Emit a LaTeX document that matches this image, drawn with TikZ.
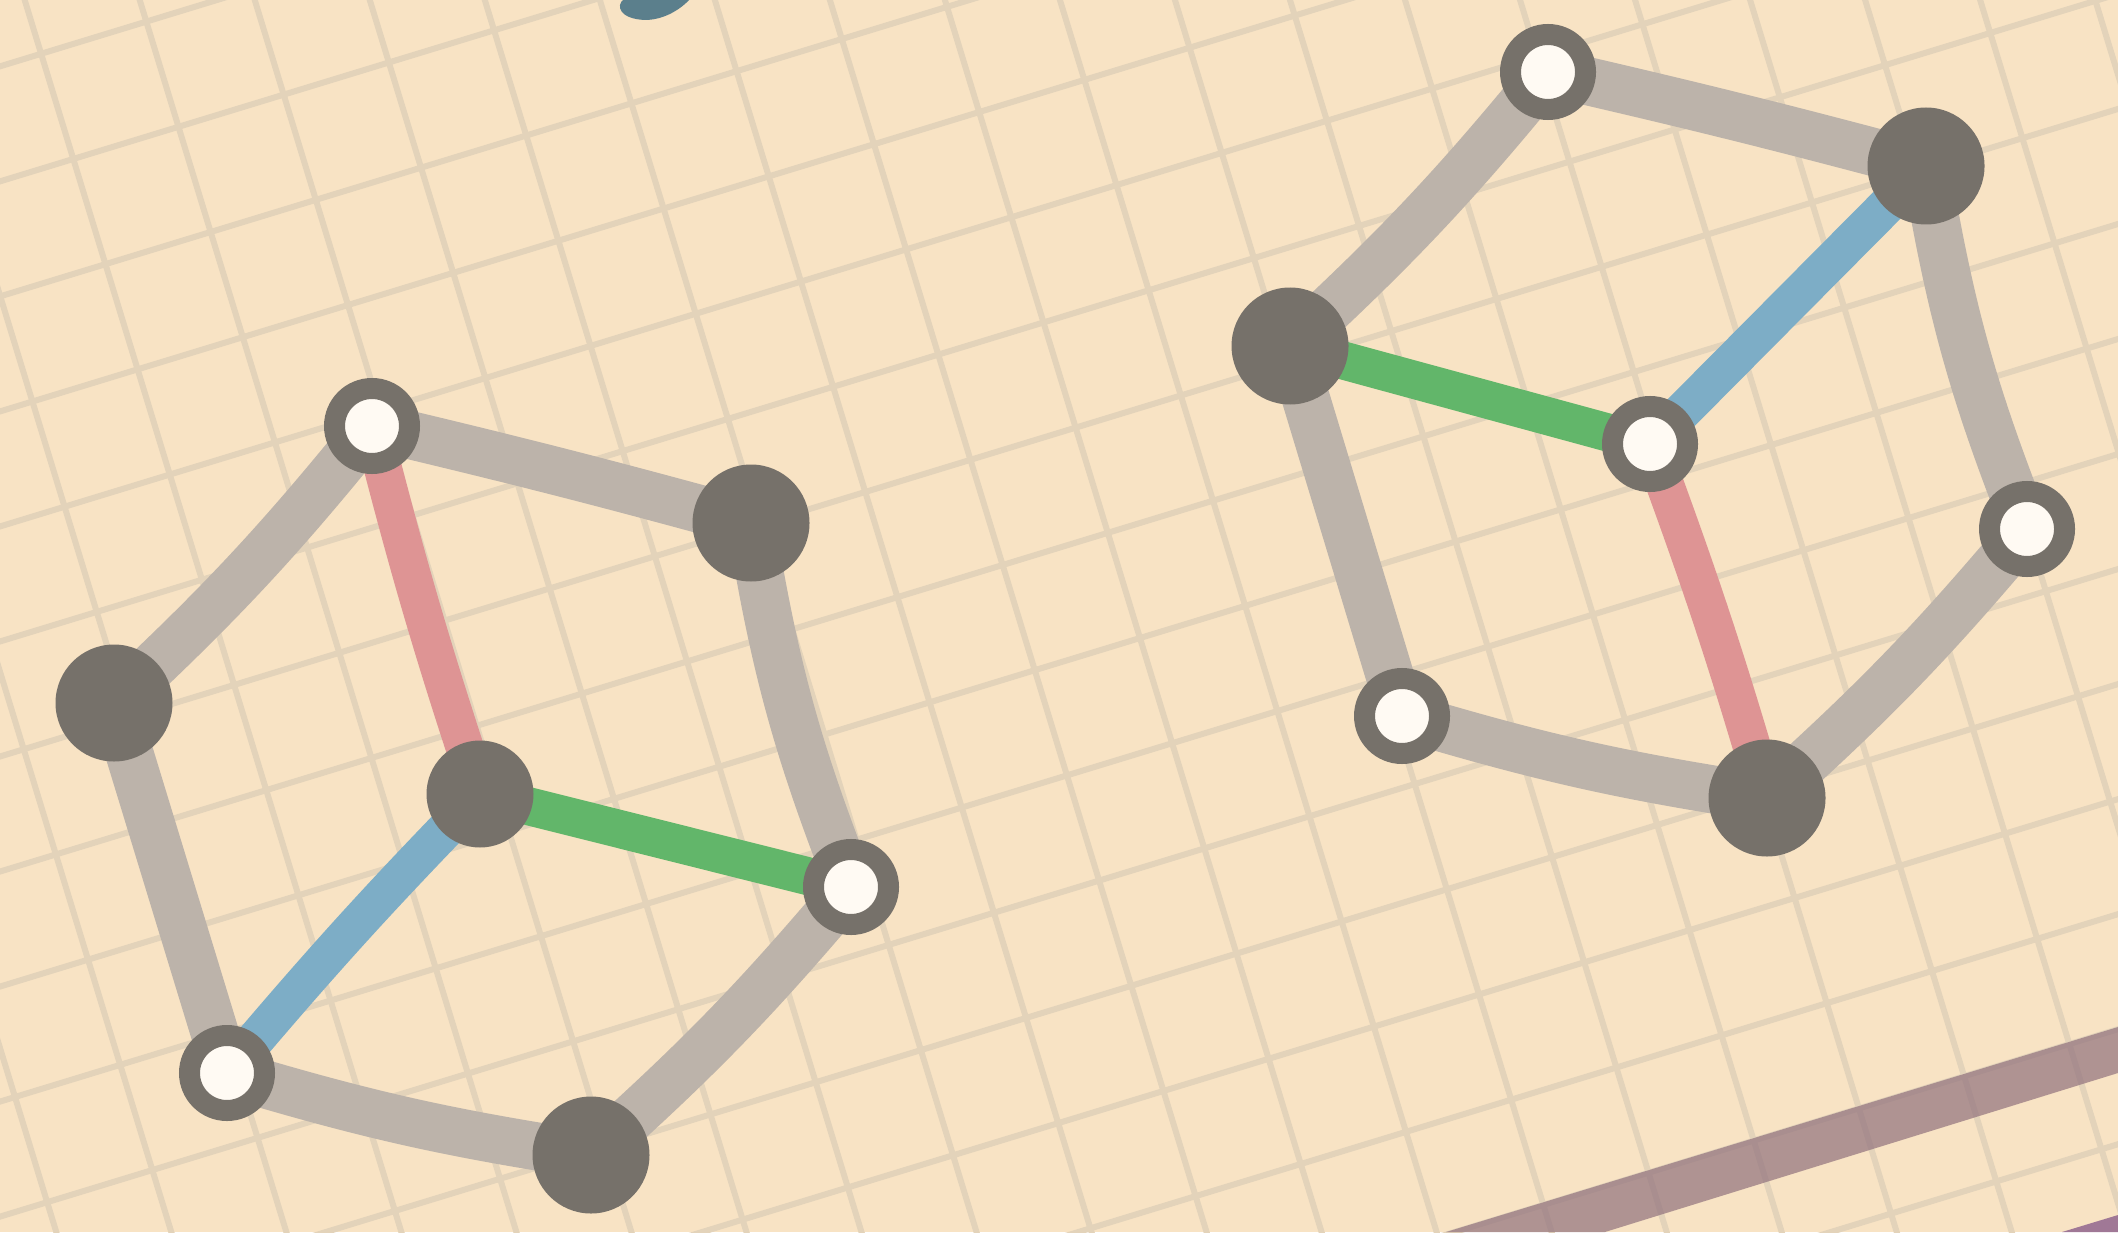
\documentclass[tikz,border=0pt]{standalone}
\usetikzlibrary{backgrounds}
\definecolor{paper}{HTML}{F8E3C4}
\definecolor{gridtan}{HTML}{E3D3BA}
\definecolor{bondgrey}{HTML}{BCB3AA}
\definecolor{atomgrey}{HTML}{76716A}
\definecolor{atomwhite}{HTML}{FFFAF3}
\definecolor{bondred}{HTML}{DE9494}
\definecolor{bondgreen}{HTML}{62B66A}
\definecolor{bondblue}{HTML}{7DADC6}
\definecolor{blobblue}{HTML}{5B7F8C}
\definecolor{bandpurple}{HTML}{91727D}
\definecolor{cornerpurple}{HTML}{A07896}
\begin{document}
\begin{tikzpicture}[
  x=0.1mm, y=-0.1mm,
  darkatom/.style={circle, fill=atomgrey, inner sep=0pt, minimum size=11.7mm},
  centreatom/.style={darkatom, minimum size=10.7mm},
  lightatom/.style={circle, draw=atomgrey, line width=2.1mm, fill=atomwhite, inner sep=0pt, minimum size=7.5mm},
  bond/.style={draw=bondgrey, line width=4.8mm, line cap=round},
  innerbond/.style={line width=3.8mm, line cap=round},
  gridline/.style={draw=gridtan, line width=0.6mm}
]
\useasboundingbox (0,0) rectangle (2118,1232);

\node[lightatom] (ltop) at (372,426) {};
\node[darkatom] (lupright) at (751,523) {};
\node[lightatom] (llowright) at (851,887) {};
\node[darkatom] (lbottom) at (591,1155) {};
\node[lightatom] (llowleft) at (227,1073) {};
\node[darkatom] (lupleft) at (114,703) {};
\node[centreatom] (lcentre) at (480,794) {};

\node[lightatom] (rtop) at (1548,72) {};
\node[darkatom] (rupright) at (1926,166) {};
\node[lightatom] (rlowright) at (2027,529) {};
\node[darkatom] (rbottom) at (1767,798) {};
\node[lightatom] (rlowleft) at (1402,716) {};
\node[darkatom] (rupleft) at (1290,346) {};
\node[lightatom] (rcentre) at (1650,444) {};

\begin{pgfonlayer}{background}
\fill[paper] (0,0) rectangle (2118,1232);
\begin{scope}
  \clip (0,0) rectangle (2118,1232);
  \begin{scope}[shift={(15,1097)}, rotate=17]
    \foreach \k in {-10,...,7}
      \draw[gridline] (-300,\k*110) -- (2600,\k*110);
    \foreach \k in {-2,...,23}
      \draw[gridline] (\k*110,-1300) -- (\k*110,1000);
  \end{scope}
  \fill[bandpurple, fill opacity=0.7] (1446,1232) -- (2118,1027) -- (2118,1073) -- (1605,1232) -- cycle;
  \fill[cornerpurple] (2062,1232) -- (2118,1215) -- (2118,1232) -- cycle;
  \fill[blobblue] (624,-1) .. controls (615,6) and (620,19) .. (645,20)
    .. controls (665,20) and (682,8) .. (690,-1) -- cycle;
\end{scope}

\draw[bond] (ltop.center) to[bend left=1] (lupright.center);
\draw[bond] (lupright.center) to[bend right=6] (llowright.center);
\draw[bond] (llowright.center) to[bend left=4] (lbottom.center);
\draw[bond] (lbottom.center) to[bend left=4] (llowleft.center);
\draw[bond] (llowleft.center) -- (lupleft.center);
\draw[bond] (lupleft.center) to[bend right=4] (ltop.center);
\draw[innerbond, bondred] (ltop.center) to[bend right=2] (lcentre.center);
\draw[innerbond, bondgreen] (lcentre.center) -- (llowright.center);
\draw[innerbond, bondblue] (lcentre.center) to[bend right=2] (llowleft.center);

\draw[bond] (rtop.center) to[bend left=1] (rupright.center);
\draw[bond] (rupright.center) to[bend right=6] (rlowright.center);
\draw[bond] (rlowright.center) to[bend left=4] (rbottom.center);
\draw[bond] (rbottom.center) to[bend left=4] (rlowleft.center);
\draw[bond] (rlowleft.center) -- (rupleft.center);
\draw[bond] (rupleft.center) to[bend right=4] (rtop.center);
\draw[innerbond, bondgreen] (rupleft.center) -- (rcentre.center);
\draw[innerbond, bondblue] (rcentre.center) -- (rupright.center);
\draw[innerbond, bondred] (rcentre.center) to[bend left=2] (rbottom.center);
\end{pgfonlayer}
\end{tikzpicture}
\end{document}
